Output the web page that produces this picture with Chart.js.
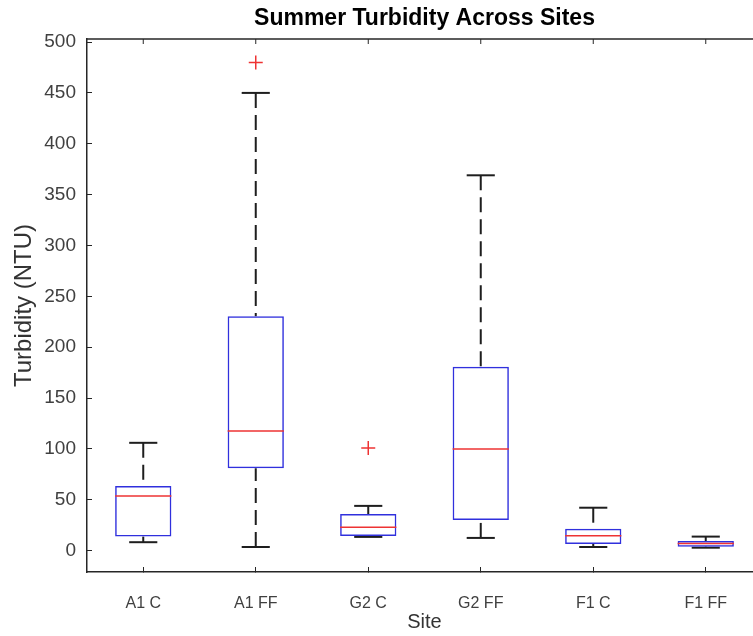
<!DOCTYPE html>
<html>
<head>
<meta charset="utf-8">
<script src="https://cdn.jsdelivr.net/npm/chart.js@4.4.1/dist/chart.umd.min.js"></script>
<style>
  html, body { margin: 0; padding: 0; background: #fff; overflow: hidden; }
  canvas { display: block; }
</style>
</head>
<body>
<canvas id="box-chart" width="775" height="636"></canvas>
<script>
// summer turbidity per site (NTU)
const sites = ['A1 C', 'A1 FF', 'G2 C', 'G2 FF', 'F1 C', 'F1 FF'];
const whiskerLow = [8.3, 3.6, 13.5, 12.5, 3.6, 2.9];
const q1 = [13.8, 81, 14.4, 30, 6.6, 3.9];
const median = [53.7, 117.6, 23, 100, 14.7, 6.9];
const q3 = [63.5, 230.5, 36, 180.7, 21.6, 9.5];
const whiskerHigh = [106, 450, 44, 369, 42.2, 13.8];
const outliers = [[], [480], [101], [], [], []];
const yTicks = [0, 50, 100, 150, 200, 250, 300, 350, 400, 450, 500];

const FONT = "'Liberation Sans', Arial, Helvetica, sans-serif";
const AXIS = '#262626';
const BOX = '#3030dd';
const RED = '#ee3333';

function line(ctx, x1, y1, x2, y2) {
  ctx.beginPath();
  ctx.moveTo(x1, y1);
  ctx.lineTo(x2, y2);
  ctx.stroke();
}

// whiskers, caps, medians and the top/right frame (matlab style box)
const boxParts = {
  id: 'boxParts',
  beforeDatasetsDraw(c) {
    const { ctx, scales: { x, y } } = c;
    const step = x.getPixelForValue(1) - x.getPixelForValue(0);
    const capHalf = step * 0.125;
    ctx.save();
    ctx.strokeStyle = '#1e1e1e';
    ctx.lineWidth = 2;
    sites.forEach((s, i) => {
      const cx = x.getPixelForValue(i);
      const yHi = y.getPixelForValue(whiskerHigh[i]);
      const yLo = y.getPixelForValue(whiskerLow[i]);
      ctx.setLineDash([15, 7]);
      line(ctx, cx, yHi, cx, y.getPixelForValue(q3[i]));
      line(ctx, cx, yLo, cx, y.getPixelForValue(q1[i]));
      ctx.setLineDash([]);
      line(ctx, cx - capHalf, yHi, cx + capHalf, yHi);
      line(ctx, cx - capHalf, yLo, cx + capHalf, yLo);
    });
    ctx.restore();
  },
  afterDatasetsDraw(c) {
    const { ctx, scales: { x, y } } = c;
    const step = x.getPixelForValue(1) - x.getPixelForValue(0);
    const half = step * 0.25;
    ctx.save();
    ctx.strokeStyle = RED;
    ctx.lineWidth = 1.5;
    sites.forEach((s, i) => {
      const cx = x.getPixelForValue(i);
      const ym = y.getPixelForValue(median[i]);
      line(ctx, cx - half, ym, cx + half, ym);
    });
    ctx.restore();
  },
  afterDraw(c) {
    const { ctx, chartArea: a, scales: { x, y } } = c;
    ctx.save();
    ctx.strokeStyle = AXIS;
    ctx.lineWidth = 1.5;
    line(ctx, a.left, a.top, a.right, a.top);
    line(ctx, a.right, a.top, a.right, a.bottom);
    ctx.lineWidth = 1;
    sites.forEach((s, i) => {
      const px = x.getPixelForValue(i);
      line(ctx, px, a.top, px, a.top + 5);
    });
    yTicks.forEach(v => {
      const py = y.getPixelForValue(v);
      line(ctx, a.right, py, a.right - 5, py);
    });
    ctx.restore();
  }
};

const outlierPoints = [];
outliers.forEach((list, i) => list.forEach(v => outlierPoints.push({ x: sites[i], y: v })));

new Chart(document.getElementById('box-chart'), {
  type: 'bar',
  data: {
    labels: sites,
    datasets: [
      {
        label: 'box',
        data: sites.map((s, i) => [q1[i], q3[i]]),
        backgroundColor: 'rgba(0,0,0,0)',
        borderColor: BOX,
        borderWidth: 1.5,
        borderSkipped: false,
        barPercentage: 0.5,
        categoryPercentage: 1
      },
      {
        type: 'line',
        label: 'outliers',
        data: outlierPoints,
        showLine: false,
        pointStyle: 'cross',
        pointRadius: 7,
        pointBorderColor: RED,
        pointBorderWidth: 1.5
      }
    ]
  },
  options: {
    responsive: false,
    animation: false,
    devicePixelRatio: 1,
    layout: { padding: { left: 0, right: 13, top: 0, bottom: 0 } },
    plugins: {
      legend: { display: false },
      tooltip: { enabled: false },
      title: {
        display: true,
        fullSize: false,
        text: 'Summer Turbidity Across Sites',
        color: '#000',
        font: { family: FONT, size: 23, weight: 'bold' },
        padding: { top: 5, bottom: 6.4 }
      }
    },
    scales: {
      x: {
        offset: true,
        grid: { offset: false, drawOnChartArea: false, tickLength: -5, color: AXIS },
        border: { color: AXIS, width: 1.5 },
        ticks: { color: '#404040', font: { family: FONT, size: 16 }, padding: 27, maxRotation: 0 },
        title: {
          display: true, text: 'Site', color: '#333',
          font: { family: FONT, size: 20 }, padding: { top: 0, bottom: 2 }
        },
        afterFit: s => { s.height = 64; }
      },
      y: {
        min: -21,
        max: 503,
        afterBuildTicks: s => { s.ticks = yTicks.map(v => ({ value: v })); },
        grid: { drawOnChartArea: false, tickLength: -5, color: AXIS },
        border: { color: AXIS, width: 1.5 },
        ticks: { color: '#404040', font: { family: FONT, size: 19 }, padding: 16 },
        title: {
          display: true, text: 'Turbidity (NTU)', color: '#333',
          font: { family: FONT, size: 24 }, padding: { top: 10, bottom: 0 }
        },
        afterFit: s => { s.width = 87; }
      }
    }
  },
  plugins: [boxParts]
});
</script>
</body>
</html>
